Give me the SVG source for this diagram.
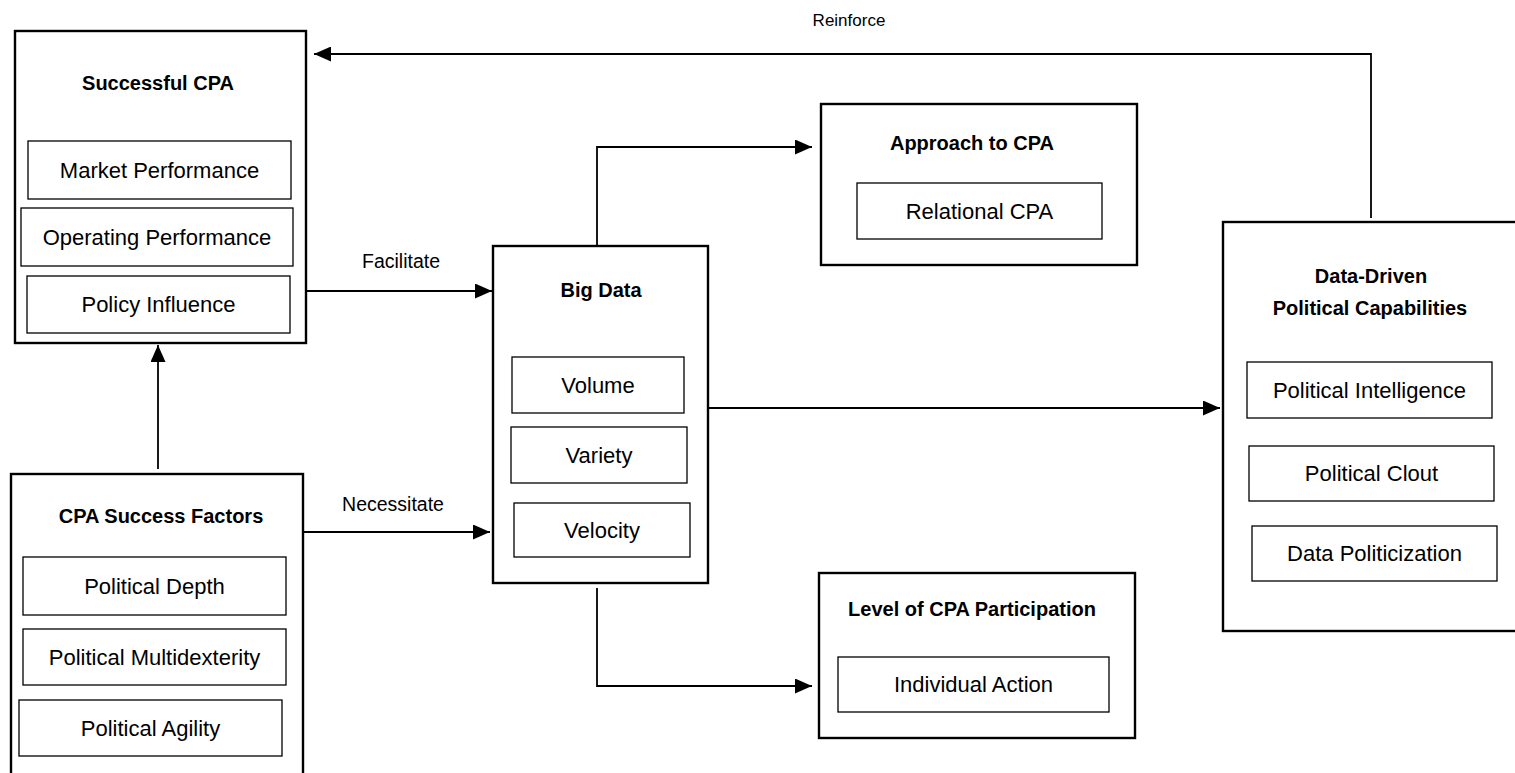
<svg xmlns="http://www.w3.org/2000/svg" width="1515" height="773" viewBox="0 0 1515 773">
<style>
.outer{fill:#fff;stroke:#000;stroke-width:2.4}
.inner{fill:#fff;stroke:#000;stroke-width:1.3}
.t{font-family:"Liberation Sans",Arial,sans-serif;font-size:22px;fill:#000;text-anchor:middle;dominant-baseline:central}
.b{font-family:"Liberation Sans",Arial,sans-serif;font-size:20px;font-weight:bold;fill:#000;text-anchor:middle;dominant-baseline:central}
.l{font-family:"Liberation Sans",Arial,sans-serif;font-size:19.5px;fill:#000;text-anchor:middle;dominant-baseline:central}
.r{font-family:"Liberation Sans",Arial,sans-serif;font-size:17px;fill:#000;text-anchor:middle;dominant-baseline:central}
.c{fill:none;stroke:#000;stroke-width:1.8}
</style>
<defs>
<marker id="arr" viewBox="0 0 17 15" refX="17" refY="7.5" markerWidth="17" markerHeight="15" markerUnits="userSpaceOnUse" orient="auto">
<path d="M0,0 L17,7.5 L0,15 z" fill="#000"/>
</marker>
</defs>
<rect width="1515" height="773" fill="#fff"/>

<g id="connectors">
<path class="c" d="M1371,218 V54 H314" marker-end="url(#arr)"/>
<path class="c" d="M306,291 H492" marker-end="url(#arr)"/>
<path class="c" d="M303,532 H490" marker-end="url(#arr)"/>
<path class="c" d="M158,469 V345" marker-end="url(#arr)"/>
<path class="c" d="M597,246 V147 H812" marker-end="url(#arr)"/>
<path class="c" d="M597,588 V686 H812" marker-end="url(#arr)"/>
<path class="c" d="M708,408 H1220" marker-end="url(#arr)"/>
<text class="r" x="849" y="20">Reinforce</text>
<text class="l" x="401" y="261">Facilitate</text>
<text class="l" x="393" y="504">Necessitate</text>
</g>

<g id="successful-cpa">
<rect class="outer" x="15" y="31" width="291" height="312"/>
<text class="b" x="158" y="83">Successful CPA</text>
<rect class="inner" x="28" y="141" width="263" height="58"/>
<text class="t" x="159.5" y="170">Market Performance</text>
<rect class="inner" x="21" y="208" width="272" height="58"/>
<text class="t" x="157" y="237">Operating Performance</text>
<rect class="inner" x="27" y="276" width="263" height="57"/>
<text class="t" x="158.5" y="304.5">Policy Influence</text>
</g>

<g id="cpa-success-factors">
<rect class="outer" x="11" y="474" width="292" height="310"/>
<text class="b" x="161" y="516">CPA Success Factors</text>
<rect class="inner" x="23" y="557" width="263" height="58"/>
<text class="t" x="154.5" y="586">Political Depth</text>
<rect class="inner" x="23" y="629" width="263" height="56"/>
<text class="t" x="154.5" y="657">Political Multidexterity</text>
<rect class="inner" x="19" y="700" width="263" height="56"/>
<text class="t" x="150.5" y="728">Political Agility</text>
</g>

<g id="big-data">
<rect class="outer" x="493" y="246" width="215" height="337"/>
<text class="b" x="601" y="290">Big Data</text>
<rect class="inner" x="512" y="357" width="172" height="56"/>
<text class="t" x="598" y="385">Volume</text>
<rect class="inner" x="511" y="427" width="176" height="56"/>
<text class="t" x="599" y="455">Variety</text>
<rect class="inner" x="514" y="503" width="176" height="54"/>
<text class="t" x="602" y="530">Velocity</text>
</g>

<g id="approach-to-cpa">
<rect class="outer" x="821" y="104" width="316" height="161"/>
<text class="b" x="972" y="143">Approach to CPA</text>
<rect class="inner" x="857" y="183" width="245" height="56"/>
<text class="t" x="979.5" y="211">Relational CPA</text>
</g>

<g id="level-of-cpa-participation">
<rect class="outer" x="819" y="573" width="316" height="165"/>
<text class="b" x="972" y="609">Level of CPA Participation</text>
<rect class="inner" x="838" y="657" width="271" height="55"/>
<text class="t" x="973.5" y="684.5">Individual Action</text>
</g>

<g id="data-driven-political-capabilities">
<rect class="outer" x="1223" y="222" width="300" height="409"/>
<text class="b" x="1371" y="276">Data-Driven</text>
<text class="b" x="1370" y="308">Political Capabilities</text>
<rect class="inner" x="1247" y="362" width="245" height="56"/>
<text class="t" x="1369.5" y="390">Political Intelligence</text>
<rect class="inner" x="1249" y="446" width="245" height="55"/>
<text class="t" x="1371.5" y="473.5">Political Clout</text>
<rect class="inner" x="1252" y="526" width="245" height="55"/>
<text class="t" x="1374.5" y="553.5">Data Politicization</text>
</g>
</svg>
